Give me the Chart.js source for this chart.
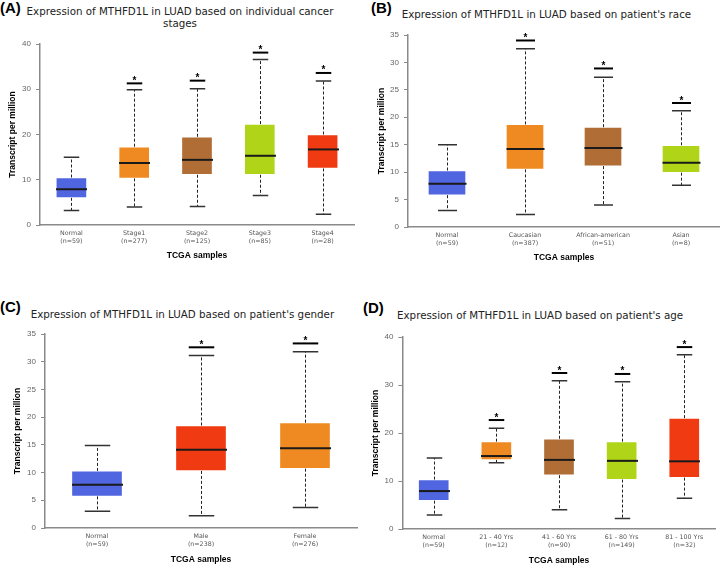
<!DOCTYPE html>
<html lang="en">
<head>
<meta charset="utf-8">
<title>MTHFD1L expression in LUAD</title>
<style>
  body { margin: 0; background: #fff; }
  #page { position: relative; width: 720px; height: 576px; overflow: hidden; background: #fff; }
  #page canvas { position: absolute; }
  .tag { position: absolute; font: bold 15px "Liberation Sans", Arial, sans-serif; line-height: 15px; color: #000; }
  .ttl { position: absolute; font: 10.3px "DejaVu Sans", sans-serif; line-height: 12px; color: #222; white-space: nowrap; }
</style>
</head>
<body>
<div id="page">
  <div class="tag" style="left:0px;top:0px">(A)</div>
  <div class="ttl" style="left:0px;width:360px;text-align:center;top:4.7px">Expression of MTHFD1L in LUAD based on individual cancer<br>stages</div>
  <div class="tag" style="left:371px;top:0px">(B)</div>
  <div class="ttl" style="left:401.7px;top:7.7px">Expression of MTHFD1L in LUAD based on patient's race</div>
  <div class="tag" style="left:0px;top:299px">(C)</div>
  <div class="ttl" style="left:30.7px;top:307.7px">Expression of MTHFD1L in LUAD based on patient's gender</div>
  <div class="tag" style="left:363px;top:300px">(D)</div>
  <div class="ttl" style="left:397px;top:309.4px">Expression of MTHFD1L in LUAD based on patient's age</div>

  <canvas id="chartA" width="360" height="288" style="left:0;top:0"></canvas>
  <canvas id="chartB" width="360" height="288" style="left:360px;top:0"></canvas>
  <canvas id="chartC" width="360" height="288" style="left:0;top:288px"></canvas>
  <canvas id="chartD" width="360" height="288" style="left:360px;top:288px"></canvas>
</div>
<script src="https://cdn.jsdelivr.net/npm/chart.js"></script>
<script>
// (A) cancer stages
const stageLabels = [['Normal', '(n=59)'], ['Stage1', '(n=277)'], ['Stage2', '(n=125)'], ['Stage3', '(n=85)'], ['Stage4', '(n=28)']]
const stageMin = [3.2, 4.0, 4.1, 6.5, 2.4]
const stageQ1  = [6.0, 10.3, 11.1, 11.1, 12.5]
const stageMed = [7.9, 13.7, 14.4, 15.3, 16.7]
const stageQ3  = [10.5, 17.3, 19.5, 22.3, 20.0]
const stageMax = [15.0, 29.9, 30.1, 36.6, 31.8]
const stageSig = [null, 31.3, 31.9, 38.1, 33.6]

// (B) race
const raceLabels = [['Normal', '(n=59)'], ['Caucasian', '(n=387)'], ['African-american', '(n=51)'], ['Asian', '(n=8)']]
const raceMin = [3.0, 2.3, 4.0, 7.6]
const raceQ1  = [5.8, 10.5, 11.1, 9.9]
const raceMed = [7.9, 14.2, 14.4, 11.7]
const raceQ3  = [10.3, 18.7, 18.2, 14.9]
const raceMax = [15.0, 32.5, 27.3, 21.2]
const raceSig = [null, 34.0, 28.9, 22.6]

// (C) gender
const genderLabels = [['Normal', '(n=59)'], ['Male', '(n=238)'], ['Female', '(n=276)']]
const genderMin = [3.0, 2.2, 3.7]
const genderQ1  = [5.7, 10.3, 10.7]
const genderMed = [7.8, 14.1, 14.4]
const genderQ3  = [10.3, 18.5, 19.0]
const genderMax = [14.9, 31.1, 31.8]
const genderSig = [null, 32.6, 33.3]

// (D) age
const ageLabels = [['Normal', '(n=59)'], ['21 - 40 Yrs', '(n=12)'], ['41 - 60 Yrs', '(n=90)'], ['61 - 80 Yrs', '(n=149)'], ['81 - 100 Yrs', '(n=32)']]
const ageMin = [2.9, 13.8, 4.0, 2.2, 6.4]
const ageQ1  = [5.9, 14.4, 11.2, 10.3, 10.7]
const ageMed = [7.9, 15.2, 14.4, 14.2, 14.1]
const ageQ3  = [10.3, 18.2, 18.8, 18.2, 23.1]
const ageMax = [14.8, 21.0, 30.9, 30.7, 36.3]
const ageSig = [null, 22.7, 32.5, 32.3, 37.9]

const blue = '#5065e0', orange = '#ef8a22', brown = '#b06d36', lime = '#afd418', red = '#ef3a12'

// whiskers, caps, medians and significance marks, placed through the chart scales
const boxExtras = {
  id: 'boxExtras',
  afterDatasetsDraw(chart) {
    const ds = chart.data.datasets[0]
    const xs = chart.scales.x, ys = chart.scales.y, ctx = chart.ctx
    const half = ds.barThickness / 2, cap = ds.barThickness / 4
    ctx.save()
    ds.data.forEach((d, i) => {
      const cx = Math.round(xs.getPixelForValue(i)) + 0.5
      const y = v => ys.getPixelForValue(v)
      // dashed whiskers
      ctx.setLineDash([3, 2])
      ctx.strokeStyle = '#222'
      ctx.lineWidth = 1
      ctx.beginPath()
      ctx.moveTo(cx, y(d[1])); ctx.lineTo(cx, y(ds.hi[i]))
      ctx.moveTo(cx, y(d[0])); ctx.lineTo(cx, y(ds.lo[i]))
      ctx.stroke()
      ctx.setLineDash([])
      // caps
      ctx.strokeStyle = '#333'
      ctx.lineWidth = 1.5
      ctx.beginPath()
      ctx.moveTo(cx - cap, y(ds.hi[i])); ctx.lineTo(cx + cap, y(ds.hi[i]))
      ctx.moveTo(cx - cap, y(ds.lo[i])); ctx.lineTo(cx + cap, y(ds.lo[i]))
      ctx.stroke()
      // median
      ctx.strokeStyle = '#1a1a1a'
      ctx.lineWidth = 2
      ctx.beginPath()
      ctx.moveTo(cx - half, y(ds.mid[i])); ctx.lineTo(cx + half, y(ds.mid[i]))
      ctx.stroke()
      // significance bar + star
      if (ds.sig[i] != null) {
        const sy = y(ds.sig[i])
        ctx.strokeStyle = '#000'
        ctx.lineWidth = 2
        ctx.beginPath()
        ctx.moveTo(cx - cap, sy); ctx.lineTo(cx + cap, sy)
        ctx.stroke()
        ctx.fillStyle = '#000'
        ctx.font = 'bold 10px "Liberation Sans", Arial, sans-serif'
        ctx.textAlign = 'center'
        ctx.textBaseline = 'alphabetic'
        ctx.fillText('*', cx, sy + 0.5)
      }
    })
    ctx.restore()
  }
}

function makePanel(id, labels, lo, q1, med, q3, hi, sig, colors, p) {
  const boxes = q1.map((v, i) => [v, q3[i]])
  new Chart(document.getElementById(id), {
    type: 'bar',
    data: {
      labels: labels,
      datasets: [{
        data: boxes,
        lo: lo, mid: med, hi: hi, sig: sig,
        backgroundColor: colors,
        borderColor: 'rgba(255,255,255,0.35)',
        borderWidth: 1,
        borderSkipped: false,
        barThickness: p.box
      }]
    },
    options: {
      responsive: false,
      animation: false,
      devicePixelRatio: 1,
      layout: { padding: { top: p.top, right: p.right, left: 0, bottom: 0 } },
      plugins: { legend: { display: false }, tooltip: { enabled: false } },
      scales: {
        x: {
          grid: { display: false, drawTicks: false },
          border: { display: true, color: '#8a8a8a', width: 1.5 },
          ticks: {
            color: '#555', padding: 4, maxRotation: 0, autoSkip: false,
            font: { family: 'DejaVu Sans', size: 6.3, lineHeight: 1.3 }
          },
          title: {
            display: true, text: 'TCGA samples', color: '#000',
            font: { family: 'Liberation Sans', size: 8.5, weight: 'bold', lineHeight: 1.2 },
            padding: { top: 0, bottom: p.xTitle }
          },
          afterFit(s) { s.height = p.xh }
        },
        y: {
          min: 0, max: p.ymax,
          grid: { display: true, drawOnChartArea: false, drawTicks: true, tickLength: 4, color: '#8a8a8a', lineWidth: 1 },
          border: { display: true, color: '#8a8a8a', width: 1.5 },
          ticks: {
            stepSize: p.step, color: '#666', padding: 5,
            font: { family: 'Liberation Sans', size: 8 }
          },
          title: {
            display: true, text: 'Transcript per million', color: '#000',
            font: { family: 'Liberation Sans', size: 8.5, weight: 'bold', lineHeight: 1.2 },
            padding: { top: p.yTitle, bottom: 0 }
          },
          afterFit(s) { s.width = p.left }
        }
      }
    },
    plugins: [boxExtras]
  })
}

makePanel('chartA', stageLabels, stageMin, stageQ1, stageMed, stageQ3, stageMax, stageSig,
  [blue, orange, brown, lime, red],
  { box: 31, top: 44, right: 6, left: 40, xh: 63, xTitle: 27, yTitle: 8, ymax: 40, step: 10 })

makePanel('chartB', raceLabels, raceMin, raceQ1, raceMed, raceQ3, raceMax, raceSig,
  [blue, orange, brown, lime],
  { box: 38, top: 35, right: 0, left: 48, xh: 61, xTitle: 25, yTitle: 16.4, ymax: 35, step: 5 })

makePanel('chartC', genderLabels, genderMin, genderQ1, genderMed, genderQ3, genderMax, genderSig,
  [blue, red, orange],
  { box: 51, top: 46, right: 3, left: 45, xh: 48, xTitle: 11.6, yTitle: 12.9, ymax: 35, step: 5 })

makePanel('chartD', ageLabels, ageMin, ageQ1, ageMed, ageQ3, ageMax, ageSig,
  [blue, orange, brown, lime, red],
  { box: 31, top: 49, right: 4.4, left: 42.4, xh: 47, xTitle: 10.6, yTitle: 10.4, ymax: 40, step: 10 })
</script>
</body>
</html>
